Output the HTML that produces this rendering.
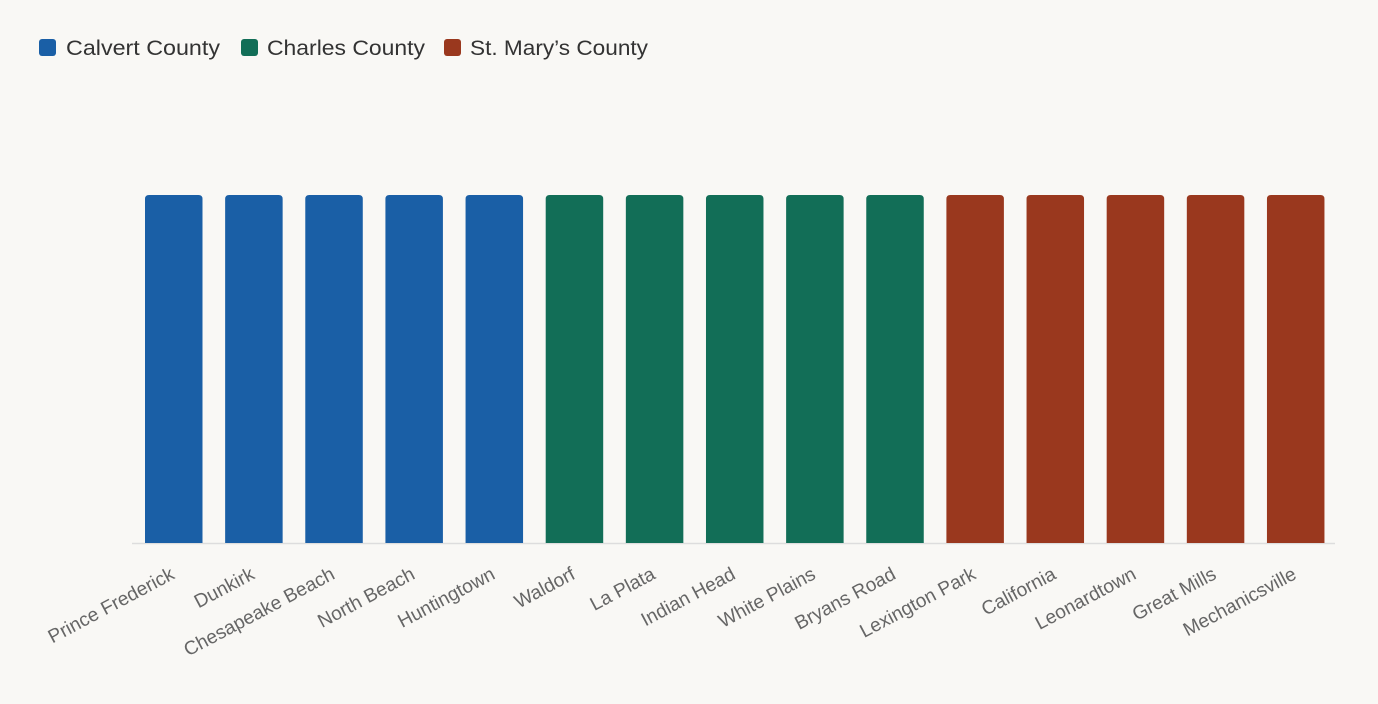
<!DOCTYPE html>
<html><head><meta charset="utf-8"><style>
html,body{margin:0;padding:0;background:#f9f8f5;}
</style></head><body>
<svg width="1378" height="704" xmlns="http://www.w3.org/2000/svg" style="display:block;font-family:'Liberation Sans',sans-serif">
<rect width="1378" height="704" fill="#f9f8f5"/>
<g font-size="21" fill="#333">
<rect x="39" y="39" width="17" height="17" rx="3" fill="#1a5fa6"/><text x="66" y="55" textLength="154" lengthAdjust="spacingAndGlyphs">Calvert County</text>
<rect x="241" y="39" width="17" height="17" rx="3" fill="#126e57"/><text x="267" y="55" textLength="158" lengthAdjust="spacingAndGlyphs">Charles County</text>
<rect x="444" y="39" width="17" height="17" rx="3" fill="#9a381e"/><text x="470" y="55" textLength="178" lengthAdjust="spacingAndGlyphs">St. Mary’s County</text>
</g>
<line x1="132" y1="543.5" x2="1335" y2="543.5" stroke="#ddd" stroke-width="1.5"/>
<g id="bars"></g>
<g id="labels" font-size="19.2" fill="#666" text-anchor="end"></g>
</svg>
<script>
var names=["Prince Frederick","Dunkirk","Chesapeake Beach","North Beach","Huntingtown","Waldorf","La Plata","Indian Head","White Plains","Bryans Road","Lexington Park","California","Leonardtown","Great Mills","Mechanicsville"];
var cols=["#1a5fa6","#126e57","#9a381e"];
var b=document.getElementById("bars"),l=document.getElementById("labels"),ns="http://www.w3.org/2000/svg";
names.forEach(function(n,i){
 var x=145+i*80.14,w=57.5,c=cols[Math.floor(i/5)];
 var p=document.createElementNS(ns,"path");
 p.setAttribute("d","M"+x+",543 V199 q0,-4 4,-4 H"+(x+w-4)+" q4,0 4,4 V543 Z");
 p.setAttribute("fill",c);b.appendChild(p);
 var t=document.createElementNS(ns,"text");
 var cx=x+w/2+2,cy=578;
 t.setAttribute("x",cx);t.setAttribute("y",cy);
 t.setAttribute("transform","rotate(-28 "+cx+" "+cy+")");
 t.textContent=n;l.appendChild(t);
});
</script>
</body></html>
